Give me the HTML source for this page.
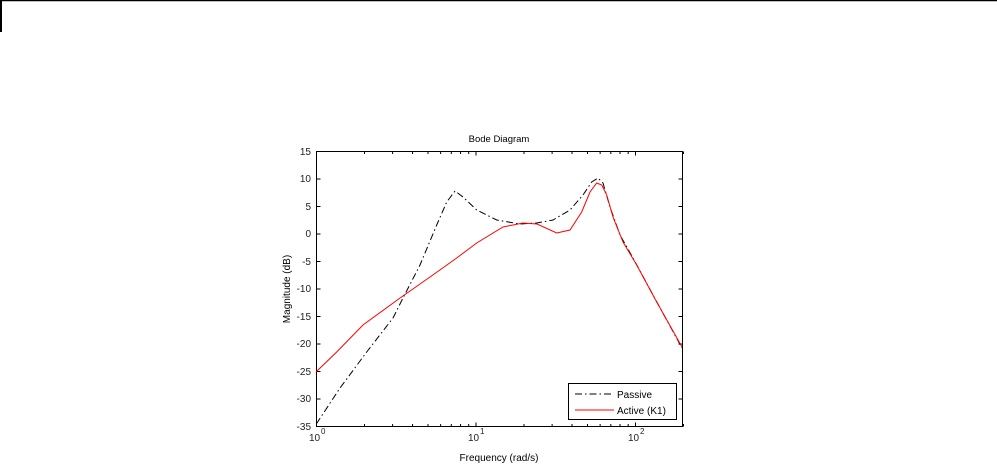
<!DOCTYPE html>
<html><head><style>body{margin:0;background:#fff;width:997px;height:465px;overflow:hidden}</style></head><body>
<svg width="997" height="465" xmlns="http://www.w3.org/2000/svg" font-family="Liberation Sans, sans-serif" font-size="10">
<line x1="0" y1="0.5" x2="997" y2="0.5" stroke="#000" stroke-width="1.5"/>
<line x1="1" y1="0" x2="1" y2="32" stroke="#000" stroke-width="2"/>
<rect x="316.5" y="151.5" width="366" height="275" fill="#fff" stroke="#000" stroke-width="1"/>
<g id="ticks" stroke="#000" stroke-width="1"></g>
<g fill="#222" text-anchor="end">
<text x="311" y="155">15</text><text x="311" y="182">10</text><text x="311" y="210">5</text><text x="311" y="237">0</text><text x="311" y="265">-5</text><text x="311" y="292">-10</text><text x="311" y="320">-15</text><text x="311" y="347">-20</text><text x="311" y="375">-25</text><text x="311" y="402">-30</text><text x="311" y="430">-35</text>
</g>
<g fill="#222">
<text x="309" y="441">10</text><text x="321" y="434" font-size="8">0</text>
<text x="468" y="441">10</text><text x="480" y="434" font-size="8">1</text>
<text x="628" y="441">10</text><text x="640" y="434" font-size="8">2</text>
</g>
<text x="499" y="461" text-anchor="middle" fill="#000">Frequency  (rad/s)</text>
<text x="499" y="142" text-anchor="middle" fill="#000" font-size="9.5">Bode Diagram</text>
<text transform="translate(290,289) rotate(-90)" text-anchor="middle" fill="#000">Magnitude (dB)</text>
<polyline fill="none" stroke="#000" stroke-width="1" stroke-dasharray="7,3,1.5,3" points="316.3,424 340,388 366.7,352 393,318 403,298 420,265 436.7,225 446.7,202 455,191 463,197 476.7,210 496.7,220 520,224 536.7,223 553,220 570,210 583,195 591.7,182 598,178 603,183 610,207 620,235 633,258 653,295 682,348"/>
<polyline fill="none" stroke="#f00" stroke-width="1" points="316,372 336.7,352 363,325 400,298 430,277 456.7,258 476.7,243 503,227 523,223 537,224 556.7,233 570,230 581.7,212 590,192 596.7,183 601.7,185 606.7,195 613,217 623,242 636.7,265 656.7,302 682,347"/>
<rect x="568.5" y="383.5" width="108" height="36" fill="#fff" stroke="#000"/>
<line x1="575" y1="394" x2="614" y2="394" stroke="#000" stroke-dasharray="7,3,1.5,3"/>
<line x1="575" y1="410" x2="614" y2="410" stroke="#f00"/>
<text x="617" y="398" fill="#000">Passive</text>
<text x="617" y="414" fill="#000">Active (K1)</text>
</svg>
<script>
var g=document.getElementById('ticks'),s='';
function L(a,b,c,d){s+='<line x1="'+a+'" y1="'+b+'" x2="'+c+'" y2="'+d+'"/>';}
for(var dB=-35;dB<=15;dB+=5){var y=151.5+(15-dB)*5.5;L(316.5,y,320.5,y);L(682.5,y,678.5,y);}
for(var e=0;e<3;e++)for(var m=1;m<10;m++){var f=m*Math.pow(10,e);if(f>200)break;var x=316.5+159.5*Math.log10(f);var len=m==1?4:2.5;L(x,426.5,x,426.5-len);L(x,151.5,x,151.5+len);}
g.innerHTML=s;
</script>
</body></html>
